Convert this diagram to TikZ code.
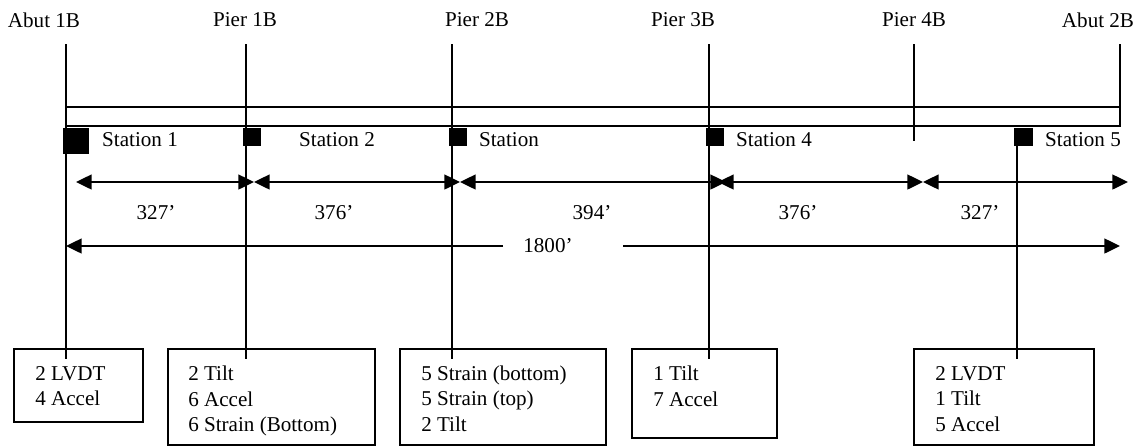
\documentclass[tikz,border=0pt]{standalone}
\usepackage{fontspec}
\setmainfont{Liberation Serif}
\usetikzlibrary{arrows.meta}

\begin{document}
\begin{tikzpicture}[x=0.25mm,y=-0.25mm,font=\fontsize{15}{18.1}\selectfont,
    pierline/.style={line width=0.8pt},
    boxline/.style={line width=1pt},
    dimline/.style={line width=1.3pt},
    dimtip/.tip={Triangle[length=3.9mm,width=3.7mm]},
    boxtext/.style={anchor=north west,inner sep=0pt,align=left}]
  \useasboundingbox (0,0) rectangle (1144,446);
  % ---- abutments + piers ----
  \foreach \nm/\lx/\px/\py/\txt in {abuta/44/66/359/Abut 1B, piera/245/246/359/Pier 1B,
      pierb/477/452/359/Pier 2B, pierc/683/709/359/Pier 3B,
      pierd/914/914/141/Pier 4B, abutb/1098/1120/127/Abut 2B}{
    \node (\nm) at (\lx,20) {\txt};
    \coordinate (\nm top) at (\px,44);
    \coordinate (\nm foot) at (\px,\py);
    \draw[pierline] (\nm top) -- (\nm foot);
  }
  % ---- deck ----
  \draw[pierline] (66,107) rectangle (1120,126);
  % ---- stations ----
  \fill (63,128) rectangle (89,154);
  \fill (243,128) rectangle (261,146);
  \fill (449,128) rectangle (467,146);
  \fill (706,128) rectangle (724,146);
  \fill (1014,128) rectangle (1033,146);
  \coordinate (sttop) at (1017,146);
  \coordinate (stfoot) at (1017,359);
  \draw[pierline] (sttop) -- (stfoot);
  \node (sta) at (140,140) {Station 1};
  \node (stb) at (337,140) {Station 2};
  \node (stc) at (509,140) {Station};
  \node (std) at (774,140) {Station 4};
  \node (ste) at (1083,140) {Station 5};
  % ---- span lengths ----
  \foreach \a/\b in {76/254, 254/460, 460/726, 718/923, 923/1128}{
    \draw[dimline,dimtip-dimtip] (\a,182) -- (\b,182);}
  \foreach \nm/\x/\t in {spana/156/327’, spanb/334/376’, spanc/592/394’, spand/798/376’, spane/980/327’}{
    \node (\nm) at (\x,213) {\t};}
  % ---- total length ----
  \node (total) at (548,246) {1800’};
  \coordinate (totl) at (503,246);
  \coordinate (totr) at (623,246);
  \draw[dimline,-dimtip] (totl) -- (66,246);
  \draw[dimline,-dimtip] (totr) -- (1120,246);
  % ---- sensor boxes ----
  \draw[boxline] (14,349) rectangle (143,422);
  \draw[boxline] (168,349) rectangle (375,445);
  \draw[boxline] (400,349) rectangle (606,445);
  \draw[boxline] (632,349) rectangle (777,438);
  \draw[boxline] (914,349) rectangle (1094,445);
  \node[boxtext] (boxa) at (35,366) {2 LVDT\\4 Accel};
  \node[boxtext] (boxb) at (188,366) {2 Tilt\\6 Accel\\6 Strain (Bottom)};
  \node[boxtext] (boxc) at (421,365.5) {5 Strain (bottom)\\5 Strain (top)\\2 Tilt};
  \node[boxtext] (boxd) at (653,366) {1 Tilt\\7 Accel};
  \node[boxtext] (boxe) at (935,366) {2 LVDT\\1 Tilt\\5 Accel};
\end{tikzpicture}
\end{document}
